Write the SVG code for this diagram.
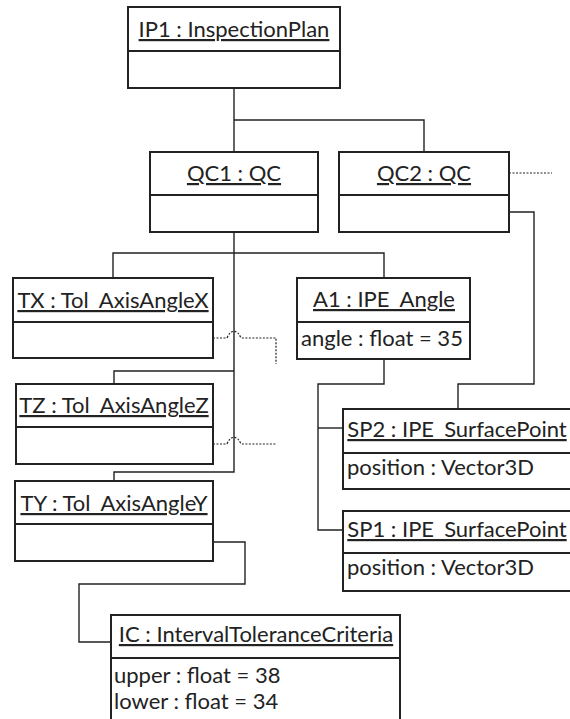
<svg xmlns="http://www.w3.org/2000/svg" width="570" height="719" viewBox="0 0 570 719">
<defs>
<style>
.box{fill:#fff;stroke:#222;stroke-width:2}
.div{stroke:#222;stroke-width:2}
.c{fill:none;stroke:#222;stroke-width:1.4}
.d{fill:none;stroke:#222;stroke-width:1.2;stroke-dasharray:2 1.5}
text{font-family:Lato,"Liberation Sans",sans-serif;font-size:22px;fill:#222}
.t{text-anchor:middle;text-decoration:underline}
</style>
</defs>
<rect width="570" height="719" fill="#fff"/>
<g id="connectors">
<path class="c" d="M234,88 V152"/>
<path class="c" d="M234,120 H424 V152"/>
<path class="c" d="M234,232 V472 H114 V481"/>
<path class="c" d="M113,278 V253 H384 V278"/>
<path class="c" d="M234,371 H114 V384"/>
<path class="c" d="M384,359 V384 H318 V530 H343"/>
<path class="c" d="M318,428 H343"/>
<path class="c" d="M509,212 H534 V384 H458 V409"/>
<path class="c" d="M213,542 H245 V584 H79 V642 H111"/>
<path class="d" d="M213,338 H227 Q230,331 234,331.5 Q238,331 241,338 H276 V364"/>
<path class="d" d="M213,444 H227 Q230,437 234,437.5 Q238,437 241,444 H276"/>
<path class="d" d="M509,173 H552"/>
</g>
<g id="IP1">
<rect class="box" x="128" y="7" width="212" height="81"/>
<line class="div" x1="128" y1="51" x2="340" y2="51"/>
<text class="t" x="234" y="37">IP1 : InspectionPlan</text>
</g>
<g id="QC1">
<rect class="box" x="150" y="152" width="168" height="80"/>
<line class="div" x1="150" y1="195" x2="318" y2="195"/>
<text class="t" x="234" y="181">QC1 : QC</text>
</g>
<g id="QC2">
<rect class="box" x="339" y="152" width="170" height="80"/>
<line class="div" x1="339" y1="195" x2="509" y2="195"/>
<text class="t" x="424" y="181">QC2 : QC</text>
</g>
<g id="TX">
<rect class="box" x="13" y="278" width="200" height="80"/>
<line class="div" x1="13" y1="322" x2="213" y2="322"/>
<text class="t" x="113" y="308">TX : Tol_AxisAngleX</text>
</g>
<g id="TZ">
<rect class="box" x="16" y="384" width="197" height="80"/>
<line class="div" x1="16" y1="427" x2="213" y2="427"/>
<text class="t" x="114" y="413">TZ : Tol_AxisAngleZ</text>
</g>
<g id="TY">
<rect class="box" x="15" y="481" width="198" height="80"/>
<line class="div" x1="15" y1="524" x2="213" y2="524"/>
<text class="t" x="114" y="511">TY : Tol_AxisAngleY</text>
</g>
<g id="A1">
<rect class="box" x="297" y="278" width="173" height="81"/>
<line class="div" x1="297" y1="322" x2="470" y2="322"/>
<text class="t" x="384" y="307">A1 : IPE_Angle</text>
<text x="301" y="346">angle : float = 35</text>
</g>
<g id="SP2">
<rect class="box" x="343" y="409" width="240" height="80"/>
<line class="div" x1="343" y1="453" x2="583" y2="453"/>
<text class="t" x="457" y="437">SP2 : IPE_SurfacePoint</text>
<text x="347" y="475">position : Vector3D</text>
</g>
<g id="SP1">
<rect class="box" x="343" y="511" width="240" height="80"/>
<line class="div" x1="343" y1="553" x2="583" y2="553"/>
<text class="t" x="457" y="537">SP1 : IPE_SurfacePoint</text>
<text x="347" y="575">position : Vector3D</text>
</g>
<g id="IC">
<rect class="box" x="111" y="615" width="289" height="120"/>
<line class="div" x1="111" y1="658" x2="400" y2="658"/>
<text class="t" x="256" y="642">IC : IntervalToleranceCriteria</text>
<text x="114" y="683">upper : float = 38</text>
<text x="114" y="709">lower : float = 34</text>
</g>
</svg>
